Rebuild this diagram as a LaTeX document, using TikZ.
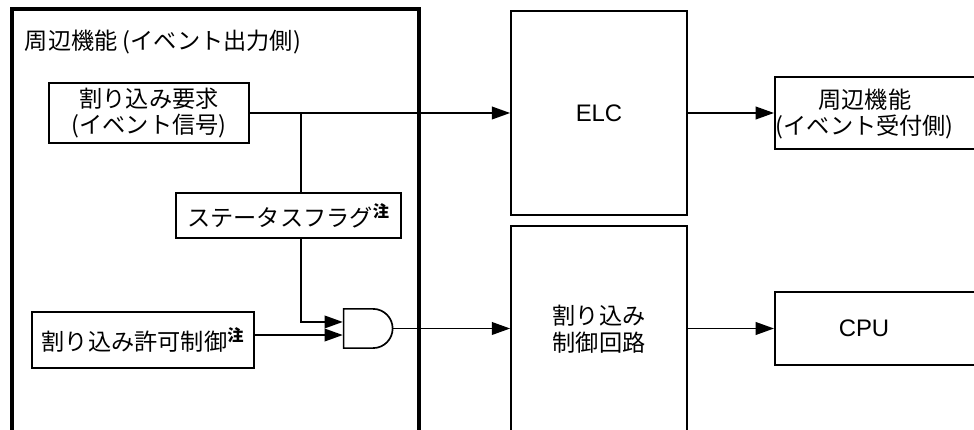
\documentclass[tikz,border=0pt]{standalone}
\usepackage{fontspec}
\setmainfont{Liberation Sans}
\newfontfamily\jp{Noto Sans CJK JP}
\usetikzlibrary{arrows.meta,shapes.gates.logic.US}
\newcommand{\chu}{\textsuperscript{\bfseries 注}}

\begin{document}
\begin{tikzpicture}[
    box/.style={draw,line width=1.2pt,inner sep=0pt},
    flow/.style={line width=1.2pt,-{Triangle[length=13pt,width=9pt]}},
    latin/.style={font=\fontsize{17}{20}\selectfont\rmfamily},
    font=\jp\fontsize{16.5}{19}\selectfont]
  \useasboundingbox (0,0) rectangle (24.35,-10.75);

  % event source side
  \draw[line width=2.4pt] (0.3,-11.2) |- (10.475,-0.225) -- (10.475,-11.2);
  \node[anchor=west] (title) at (0.5,-1.05) {周辺機能 (イベント出力側)};

  \node[box,minimum width=5cm,minimum height=1.5cm,align=center] (req) at (3.725,-2.825)
    {割り込み要求\\(イベント信号)};
  \node[box,minimum width=5.625cm,minimum height=1.125cm] (flag) at (7.2125,-5.3875)
    {ステータスフラグ\chu};
  \node[box,minimum width=5.55cm,minimum height=1.4cm] (enable) at (3.575,-8.5)
    {割り込み許可制御\chu};
  \node[and gate US,draw,line width=1.2pt,logic gate inputs=nn,
    minimum height=0.975cm,minimum width=1.225cm,inner sep=0pt] (gate) at (9.1625,-8.2125) {};

  % ELC and interrupt controller
  \node[box,latin,minimum width=4.4cm,minimum height=5.1cm] (elc) at (14.975,-2.825) {ELC};
  \node[box,minimum width=4.4cm,minimum height=5.15cm,align=center] (intc) at (14.975,-8.225)
    {割り込み\\制御回路};

  % receivers
  \node[box,minimum width=5.5cm,minimum height=1.8cm,anchor=west] (peri) at (19.35,-2.825) {};
  \node[align=center] (peritext) at (21.62,-2.85) {周辺機能\\(イベント受付側)};
  \node[box,minimum width=5.5cm,minimum height=1.825cm,anchor=west] (cpu) at (19.35,-8.2125) {};
  \node[latin] (cputext) at (21.6,-8.2125) {CPU};

  \coordinate (split) at (7.525,-2.825);
  \draw[flow] (req.east) -- (elc.west);
  \draw[line width=1.2pt] (split) -- (split |- flag.north);
  \draw[flow] (split |- flag.south) |- (gate.input 1);
  \draw[flow] (enable.east |- gate.input 2) -- (gate.input 2);
  \draw[flow] (gate.output) -- (gate.output -| intc.west);
  \draw[flow] (elc.east) -- (peri.west);
  \draw[flow] (cpu.west -| intc.east) -- (cpu.west);
\end{tikzpicture}
\end{document}
